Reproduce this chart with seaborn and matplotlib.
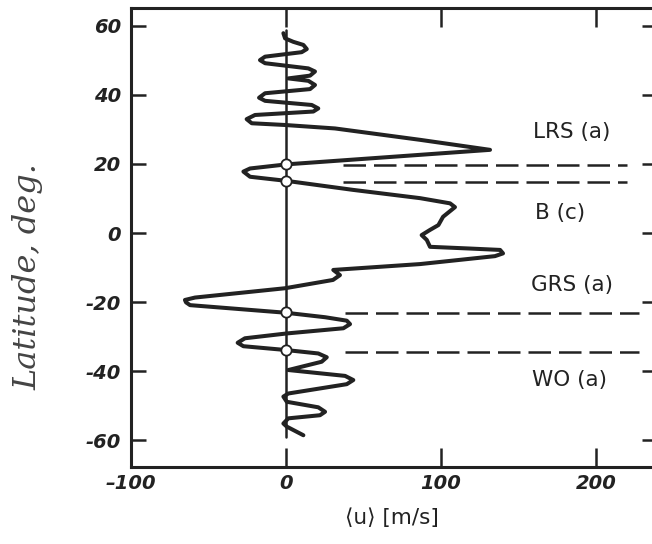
import matplotlib
matplotlib.use("Agg")
import matplotlib.pyplot as plt
import seaborn as sns
import pandas as pd

# профиль зональной скорости: широта (град) и <u> (м/с)
lat = [57.9, 56.4, 55.4, 54.5, 53.3, 52.4, 51.1, 50.1, 49.2, 47.7, 46.8, 45.6,
       44.8, 44.1, 42.9, 41.7, 40.5, 39.2, 38.3, 37.1, 36.1, 35.2, 34.2, 33.0,
       31.8, 31.3, 30.3, 27.0, 24.1,
       19.9, 18.7, 17.8, 16.3, 15.1,
       12.5, 10.1, 8.6, 7.5, 4.7, 2.3, 0.9, -0.6, -2.0, -4.0, -4.5, -4.9, -5.9,
       -6.7, -9.0, -10.7, -12.2, -13.6, -16.0, -18.7, -19.4, -20.1, -20.9,
       -23.1, -24.4, -25.4, -26.4, -27.6, -29.1, -30.5, -31.8, -32.8,
       -33.9, -34.9, -36.0, -37.3, -39.7, -41.4, -42.6, -43.8, -46.5, -47.4,
       -48.9, -50.5, -51.8, -52.8, -53.7, -55.2, -56.1, -58.6]
u = [-1.7, -0.6, 4.7, 11.2, 13.4, 10.1, -13.5, -16.8, -13.5, 14.4, 18.7, 15.5,
     1.5, 14.4, 18.7, 15.5, -13.5, -17.4, -13.5, 16.6, 20.8, 17.6, -20.0, -25.4,
     -22.1, -0.6, 31.6, 86.5, 131.6,
     0.5, -23.2, -27.5, -23.2, 0.5,
     43.2, 86.5, 105.8, 109.0, 101.3, 98.3, 92.9, 87.5, 90.8, 92.9, 118.7, 138.1,
     140.0, 134.8, 86.5, 30.5, 34.8, 30.3, -0.6, -58.7, -65.2, -64.5, -61.9,
     -0.2, 25.2, 39.2, 41.3, 37.0, 0.5, -26.5, -31.2, -27.5,
     -0.2, 20.8, 26.3, 23.0, 1.5, 38.1, 43.4, 39.2, 1.5, -1.7,
     0.5, 20.8, 25.2, 21.9, 1.5, -1.7, 0.5, 11.2]

# точки смены режима (кружки на нулевой линии)
marker_lat = [19.9, 15.1, -23.0, -33.9]
marker_u = [0, 0, 0, 0]

# границы зон (штриховые линии)
bound_lat = [19.7, 14.8, -23.2, -34.5]
bound_u_start = [36.8, 36.8, 38.0, 38.0]
bound_u_end = [220.0, 220.0, 227.7, 227.7]

# подписи зон
zone_names = ["LRS (a)", "B (c)", "GRS (a)", "WO (a)"]
zone_lat = [29.3, 5.8, -15.1, -42.6]
zone_u = [184.5, 176.8, 184.5, 183.2]

x_ticks = [-100, 0, 100, 200]
y_ticks = [-60, -40, -20, 0, 20, 40, 60]

ink = "#222222"
sns.set_style("ticks")
plt.rcParams["font.family"] = ["DejaVu Sans"]

fig = plt.figure(figsize=(6.52, 5.44), dpi=100)
ax = fig.add_axes([131 / 652, 1 - 467 / 544, (652 - 131) / 652, (467 - 8) / 544])

# нулевая линия
ax.plot([0, 0], [58.8, -59.0], color=ink, lw=1.8, zorder=2)

# штриховые границы
for bl, b0, b1 in zip(bound_lat, bound_u_start, bound_u_end):
    ax.plot([b0, b1], [bl, bl], color=ink, lw=1.8, dashes=(9, 3.2), zorder=2)

profile = pd.DataFrame({"u": u, "lat": lat})
sns.lineplot(data=profile, x="u", y="lat", sort=False, estimator=None,
             color=ink, lw=2.9, ax=ax, zorder=3,
             solid_joinstyle="round", solid_capstyle="round")

sns.scatterplot(x=marker_u, y=marker_lat, ax=ax, s=55, color="white",
                edgecolor=ink, linewidth=1.3, zorder=4)

for name, zl, zu in zip(zone_names, zone_lat, zone_u):
    ax.text(zu, zl, name, ha="center", va="center", fontsize=15.5, color=ink,
            family=["Liberation Sans Narrow", "DejaVu Sans"])

ax.set_xlim(-100, 236.1)
ax.set_ylim(-67.8, 65.2)
ax.set_xticks(x_ticks)
ax.set_yticks(y_ticks)
ax.set_xticklabels(["\u2013100", "0", "100", "200"])
ax.set_yticklabels([str(v) for v in y_ticks])

for lab in ax.get_xticklabels() + ax.get_yticklabels():
    lab.set_fontstyle("italic")
    lab.set_fontweight("bold")
    lab.set_fontsize(14)
    lab.set_color(ink)
    lab.set_family(["Liberation Sans Narrow", "DejaVu Sans"])

ax.tick_params(axis="x", direction="in", length=14, width=1.8, top=True,
               bottom=True, pad=5, color=ink)
ax.tick_params(axis="y", direction="in", length=11, width=1.8, left=True,
               right=False, pad=7, color=ink)

# короткие засечки справа
ax2 = ax.twinx()
ax2.set_ylim(ax.get_ylim())
ax2.set_yticks(y_ticks)
ax2.set_yticklabels([])
ax2.tick_params(axis="y", direction="in", length=7, width=1.8, color=ink)
for s in ax2.spines.values():
    s.set_visible(False)

for side in ["left", "bottom", "top"]:
    ax.spines[side].set_linewidth(2.2)
    ax.spines[side].set_color(ink)
ax.spines["right"].set_visible(False)

ax.set_xlabel("\u27e8u\u27e9 [m/s]", fontsize=15.5, color=ink, labelpad=11)
ax.set_ylabel("Latitude, deg.", fontsize=23, color="#444444",
              fontstyle="italic", family=["DejaVu Serif"])
ax.yaxis.set_label_coords(-0.168, 0.414)

fig.savefig("out.png", dpi=100, facecolor="white")
